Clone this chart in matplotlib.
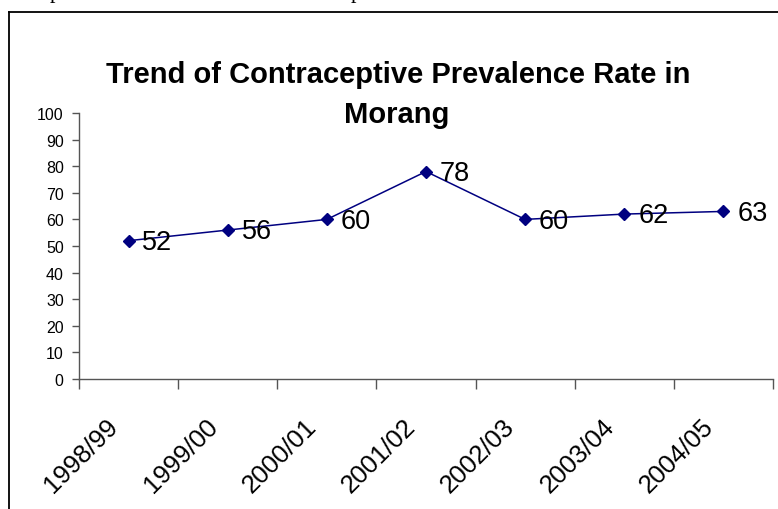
import matplotlib
matplotlib.use("Agg")
import matplotlib.pyplot as plt
from matplotlib.lines import Line2D
from matplotlib.transforms import ScaledTranslation

plt.rcParams['font.family'] = ['Liberation Sans', 'DejaVu Sans']

categories = ["1998/99", "1999/00", "2000/01", "2001/02", "2002/03", "2003/04", "2004/05"]
values = [52, 56, 60, 78, 60, 62, 63]
yticks = [0, 10, 20, 30, 40, 50, 60, 70, 80, 90, 100]
title_line1 = "Trend of Contraceptive Prevalence Rate in"
title_line2 = "Morang"

W, H = 778, 510
fig = plt.figure(figsize=(W / 100, H / 100), dpi=100)
fig.patch.set_facecolor('white')

# outer frame (top and left edges visible)
fig.add_artist(Line2D([9 / W, 9 / W], [0, 1 - 13 / H], color='black', lw=1.3, transform=fig.transFigure))
fig.add_artist(Line2D([9 / W, 1], [1 - 13 / H, 1 - 13 / H], color='black', lw=1.3, transform=fig.transFigure))

# partial glyph descenders from cut-off text above
for xp in (50, 351):
    fig.text(xp / W, 1 + 2 / H, "p", family='Liberation Serif', fontsize=16, va='baseline', ha='left', color='black')

ax = fig.add_axes([79 / W, 1 - 380 / H, (773 - 79) / W, (380 - 114) / H])
n = len(categories)
x = [i + 0.5 for i in range(n)]
ax.plot(x, values, color='#000080', lw=1.1, marker='D', markersize=6.5, markerfacecolor='#000080', markeredgecolor='#000080')

for xi, v in zip(x, values):
    ax.annotate(str(v), (xi, v), xytext=(10, -1), textcoords='offset points', fontsize=19.5, va='center', ha='left', color='black')

ax.set_xlim(0, n)
ax.set_ylim(0, 100)
ax.set_yticks(yticks)
ax.set_yticklabels([str(t) for t in yticks], fontsize=11.5)
ax.set_xticks(range(n + 1))
ax.set_xticklabels([])
ax.set_xticks(x, minor=True)
ax.set_xticklabels(categories, minor=True, rotation=45, ha='right', va='center', rotation_mode='anchor', fontsize=18.5)
ax.tick_params(axis='x', which='minor', length=0, pad=31)
ax.tick_params(axis='x', which='major', length=7, direction='out', color='#555555', width=1)
ax.tick_params(axis='y', length=5, direction='out', color='#555555', width=1, pad=6)
off = ScaledTranslation(-14 / 100, 0, fig.dpi_scale_trans)
for lab in ax.get_xticklabels(minor=True):
    lab.set_transform(lab.get_transform() + off)

for s in ('top', 'right'):
    ax.spines[s].set_visible(False)
for s in ('left', 'bottom'):
    ax.spines[s].set_color('#555555')
    ax.spines[s].set_linewidth(1)
ax.patch.set_alpha(0)

fig.text(398 / W, 1 - 83 / H, title_line1, fontsize=21, fontweight='bold', ha='center', va='baseline')
fig.text(397 / W, 1 - 123 / H, title_line2, fontsize=21, fontweight='bold', ha='center', va='baseline')

fig.savefig("out.png", dpi=100)
